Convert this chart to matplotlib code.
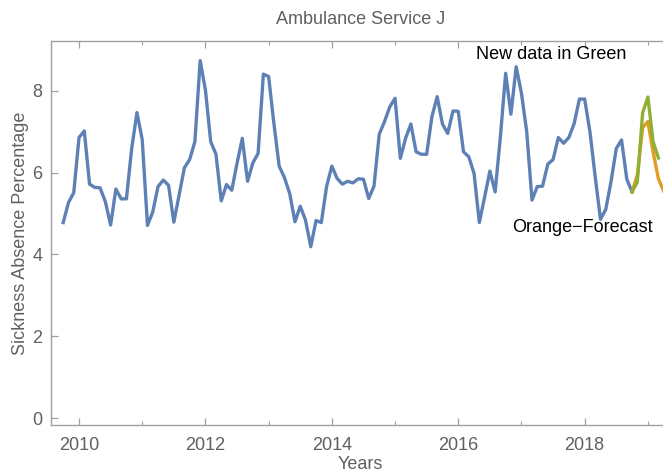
import numpy as np
import matplotlib
matplotlib.use("Agg")
import matplotlib.pyplot as plt
from matplotlib.ticker import MultipleLocator

plt.rcParams['font.family'] = ['Liberation Sans', 'DejaVu Sans']

# monthly sickness absence (%), first month Oct 2009
start_year = 2009.75
observed = [
    4.78, 5.27, 5.51, 6.86, 7.02, 5.72, 5.64, 5.63, 5.29, 4.72,
    5.60, 5.36, 5.36, 6.59, 7.47, 6.81, 4.71, 5.04, 5.66, 5.82,
    5.69, 4.79, 5.45, 6.12, 6.32, 6.76, 8.74, 8.02, 6.76, 6.45,
    5.31, 5.71, 5.57, 6.23, 6.84, 5.79, 6.24, 6.47, 8.41, 8.35,
    7.20, 6.16, 5.88, 5.49, 4.80, 5.18, 4.84, 4.19, 4.83, 4.78,
    5.66, 6.16, 5.86, 5.72, 5.79, 5.75, 5.85,
    5.84, 5.37, 5.67, 6.94, 7.25, 7.61, 7.82, 6.35, 6.84, 7.19,
    6.51, 6.45, 6.45, 7.37, 7.86, 7.19, 6.96, 7.51, 7.50, 6.51,
    6.39, 5.98, 4.78, 5.40, 6.04, 5.53, 6.88, 8.43, 7.43, 8.59,
    7.94, 7.00, 5.33, 5.66, 5.67, 6.21, 6.32, 6.86, 6.72, 6.86,
    7.20, 7.80, 7.80, 7.00, 5.90, 4.86, 5.10, 5.78, 6.59, 6.80,
    5.84, 5.53,
]
# new data and forecast both start at the last observed month (Oct 2018)
new_start = 2018.75
new_data = [5.53, 5.77, 7.46, 7.85, 6.75, 6.36]
forecast = [5.53, 5.95, 7.10, 7.25, 6.50, 5.85, 5.55]

blue = "#5E81B5"
orange = "#E19C24"
green = "#8FB032"
grey_txt = "#606060"
frame = "#A0A0A0"

fig = plt.figure(figsize=(6.63, 4.74), dpi=100)
# axes right edge runs just off the picture, like the reference crop
ax = fig.add_axes([50.7 / 663, 49 / 474, (670 - 50.7) / 663, 384 / 474])

x_obs = start_year + np.arange(len(observed)) / 12
x_new = new_start + np.arange(len(new_data)) / 12
x_fc = new_start + np.arange(len(forecast)) / 12

ax.plot(x_obs, observed, color=blue, lw=2.4)
ax.plot(x_fc, forecast, color=orange, lw=2.4)
ax.plot(x_new, new_data, color=green, lw=2.4)

ax.set_xlim(2009.552, 2019.35)
ax.set_ylim(-0.17, 9.22)

ax.xaxis.set_major_locator(MultipleLocator(2))
ax.xaxis.set_minor_locator(MultipleLocator(1))
ax.yaxis.set_major_locator(MultipleLocator(2))
ax.tick_params(which='both', direction='in', top=True, right=True,
               color=frame, labelcolor=grey_txt, labelsize=13)
ax.tick_params(which='major', length=5, width=0.9)
ax.tick_params(which='minor', length=3, width=0.8)
ax.tick_params(axis='x', pad=9)
ax.tick_params(axis='y', pad=6)
for s in ax.spines.values():
    s.set_color(frame)
    s.set_linewidth(1.0)

ax.set_xlabel("Years", color=grey_txt, fontsize=13, labelpad=1)
ax.set_ylabel("Sickness Absence Percentage", color=grey_txt, fontsize=13, labelpad=2)
fig.text(361 / 663, 1 - 20 / 474, "Ambulance Service J", color=grey_txt,
         fontsize=13, ha='center', va='center')

ax.text(2017.47, 8.88, "New data in Green", fontsize=13, ha='center', va='center', color='black')
ax.text(2017.97, 4.67, "Orange\u2212Forecast", fontsize=13, ha='center', va='center', color='black')

fig.savefig("out.png", dpi=100)
